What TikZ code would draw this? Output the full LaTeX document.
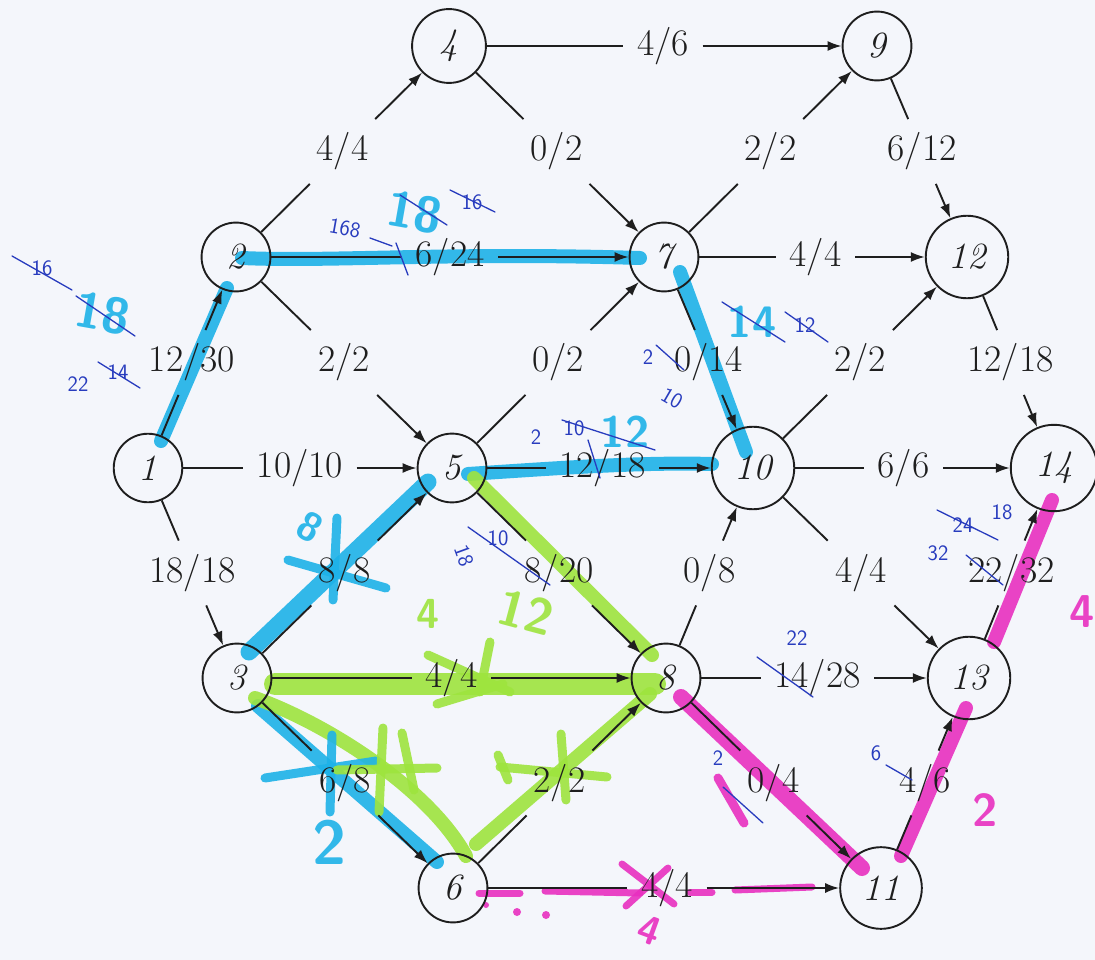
\documentclass[tikz,border=0pt]{standalone}
\usetikzlibrary{arrows.meta,calc}
\definecolor{paper}{RGB}{244,246,251}
\definecolor{ink}{RGB}{30,30,30}
\definecolor{hcyan}{RGB}{30,178,232}
\definecolor{hgreen}{RGB}{158,228,62}
\definecolor{hmag}{RGB}{232,48,192}
\definecolor{pen}{RGB}{40,60,190}
\pgfdeclarelayer{bg}
\pgfsetlayers{bg,main}
\newcommand\fedge[4]{%
  \node[lbl] (#4) at ($(#1)!0.5!(#2)$) {#3};
  \draw[seg] (#1) -- (#4);
  \draw[arc] (#4) -- (#2);
}
\begin{document}
\begin{tikzpicture}[x=1pt,y=-1pt,
  vert/.style={circle,draw=ink,text=ink,line width=1.9pt,inner sep=13.4pt,font=\fontsize{37}{44}\selectfont\itshape},
  lbl/.style={rectangle,inner sep=13.5pt,text=ink,font=\fontsize{37.5}{44}\selectfont},
  seg/.style={draw=ink,line width=1.9pt},
  arc/.style={draw=ink,line width=1.9pt,-{Latex[length=14pt,width=10pt]}},
  hl/.style={line width=14pt,line cap=round,opacity=0.9},
  hstroke/.style={line width=9pt,line cap=round,opacity=0.9},
  hnum/.style={inner sep=0pt,opacity=0.9,font=\fontsize{50}{50}\selectfont\sffamily\bfseries},
  pennum/.style={inner sep=0pt,text=pen,font=\fontsize{22}{22}\selectfont\sffamily},
  penline/.style={draw=pen,line width=1.3pt,line cap=round}]
\useasboundingbox (0,0) rectangle (1095,960);

% vertices
\node[vert] (n1) at (148,468) {1};
\node[vert] (n2) at (236,257) {2};
\node[vert] (n3) at (237,678) {3};
\node[vert] (n4) at (449,46) {4};
\node[vert] (n5) at (452,468) {5};
\node[vert] (n6) at (453,888) {6};
\node[vert] (n7) at (664,257) {7};
\node[vert] (n8) at (666,678) {8};
\node[vert] (n9) at (877,46) {9};
\node[vert] (n10) at (753,468) {10};
\node[vert] (n11) at (881,888) {11};
\node[vert] (n12) at (967,257) {12};
\node[vert] (n13) at (969,678) {13};
\node[vert] (n14) at (1054,468) {14};

% edges
\fedge{n1}{n2}{12/30}{e12}
\fedge{n1}{n5}{10/10}{e15}
\fedge{n1}{n3}{18/18}{e13}
\fedge{n2}{n4}{4/4}{e24}
\fedge{n2}{n7}{6/24}{e27}
\fedge{n2}{n5}{2/2}{e25}
\fedge{n4}{n9}{4/6}{e49}
\fedge{n4}{n7}{0/2}{e47}
\fedge{n5}{n7}{0/2}{e57}
\fedge{n5}{n10}{12/18}{e510}
\fedge{n3}{n5}{8/8}{e35}
\fedge{n5}{n8}{8/20}{e58}
\fedge{n3}{n8}{4/4}{e38}
\fedge{n3}{n6}{6/8}{e36}
\fedge{n6}{n8}{2/2}{e68}
\fedge{n6}{n11}{4/4}{e611}
\fedge{n7}{n9}{2/2}{e79}
\fedge{n7}{n12}{4/4}{e712}
\fedge{n7}{n10}{0/14}{e710}
\fedge{n8}{n10}{0/8}{e810}
\fedge{n8}{n13}{14/28}{e813}
\fedge{n8}{n11}{0/4}{e811}
\fedge{n9}{n12}{6/12}{e912}
\fedge{n10}{n12}{2/2}{e1012}
\fedge{n10}{n14}{6/6}{e1014}
\fedge{n10}{n13}{4/4}{e1013}
\fedge{n12}{n14}{12/18}{e1214}
\fedge{n13}{n14}{22/32}{e1314}
\fedge{n11}{n13}{4/6}{e1113}

% highlighter marks (below the print)
\begin{pgfonlayer}{bg}
\fill[paper] (0,0) rectangle (1095,960);
% cyan path
\draw[hl,hcyan] (161,441) -- (227,288);
\draw[hl,hcyan] (242,258) .. controls (330,262) and (450,252) .. (640,258);
\draw[hl,hcyan] (680,272) -- (746,452);
\draw[hl,hcyan] (468,474) .. controls (560,468) and (640,462) .. (712,464);
\draw[hl,hcyan,line width=17pt] (249,652) -- (428,482);
\draw[hl,hcyan] (258,706) -- (437,862);
% green path
\draw[hl,hgreen] (474,478) -- (652,655);
\draw[hl,hgreen,line width=22pt] (275,684) -- (655,684);
\draw[hl,hgreen] (255,698) .. controls (330,725) and (430,790) .. (466,856);
\draw[hl,hgreen] (476,844) -- (650,694);
% magenta path
\draw[hl,hmag,line width=16pt] (681,697) -- (862,868);
\draw[hl,hmag] (901,856) -- (966,708);
\draw[hl,hmag] (994,642) -- (1052,500);
\draw[hstroke,hmag,line width=7pt] (479,893) -- (520,893);
\draw[hstroke,hmag,line width=7pt] (545,891) -- (640,893);
\draw[hstroke,hmag,line width=7pt] (690,892) -- (712,892);
\draw[hstroke,hmag,line width=7pt] (735,890) -- (812,887);

% highlighter scribbles
\node[hnum,text=hcyan,rotate=-10] (c18a) at (103,313) {18};
\node[hnum,text=hcyan,rotate=-10] (c18b) at (415,212) {18};
\node[hnum,text=hcyan,font=\fontsize{44}{44}\selectfont\sffamily\bfseries] (c14) at (752,322) {14};
\node[hnum,text=hcyan,font=\fontsize{44}{44}\selectfont\sffamily\bfseries] (c12) at (625,432) {12};
\node[hnum,text=hcyan,font=\fontsize{40}{40}\selectfont\sffamily\bfseries,rotate=-30] (c8) at (310,527) {8};
\node[hnum,text=hcyan,font=\fontsize{62}{62}\selectfont\sffamily\bfseries] (c2) at (330,842) {2};
\draw[hstroke,hcyan] (288,560) -- (386,588);
\draw[hstroke,hcyan] (337,518) -- (333,600);
\draw[hstroke,hcyan] (265,778) -- (376,761);
\draw[hstroke,hcyan] (332,735) -- (330,812);

\node[hnum,text=hgreen,font=\fontsize{42}{42}\selectfont\sffamily\bfseries] (g4) at (428,614) {4};
\node[hnum,text=hgreen,rotate=-15] (g12) at (526,612) {12};
\draw[hstroke,hgreen] (490,642) -- (480,692);
\draw[hstroke,hgreen] (437,704) -- (503,684);
\draw[hstroke,hgreen] (428,655) -- (510,692);
\draw[hstroke,hgreen] (383,728) -- (379,812);
\draw[hstroke,hgreen] (337,770) -- (437,768);
\draw[hstroke,hgreen] (402,733) -- (414,790);
\draw[hstroke,hgreen] (561,734) -- (566,800);
\draw[hstroke,hgreen] (500,767) -- (607,777);
\draw[hstroke,hgreen] (498,755) -- (508,780);

\draw[hstroke,hmag,line width=7pt] (622,864) -- (674,904);
\draw[hstroke,hmag,line width=7pt] (626,906) -- (668,868);
\node[hnum,text=hmag,font=\fontsize{40}{40}\selectfont\sffamily\bfseries,rotate=-20] (m4a) at (650,930) {4};
\fill[hmag,opacity=0.9] (517,912) circle (4pt) (546,915) circle (4pt) (486,905) circle (3pt);
\node[hnum,text=hmag,font=\fontsize{46}{46}\selectfont\sffamily\bfseries] (m2) at (985,810) {2};
\node[hnum,text=hmag,font=\fontsize{46}{46}\selectfont\sffamily\bfseries] (m4b) at (1082,612) {4};
\draw[hstroke,hmag] (718,778) -- (744,823);
\end{pgfonlayer}

% pen notes
\node[pennum] (p16a) at (42,268) {16};
\draw[penline] (12,256) -- (72,290);
\draw[penline] (76,296) -- (135,336);
\node[pennum] (p22a) at (78,384) {22};
\node[pennum] (p14a) at (118,372) {14};
\draw[penline] (98,362) -- (140,388);
\node[pennum,rotate=-10] (p168) at (345,228) {168};
\draw[penline] (370,238) -- (392,246);
\draw[penline] (396,243) -- (408,275);
\draw[penline] (400,195) -- (447,225);
\node[pennum] (p16b) at (472,202) {16};
\draw[penline] (450,190) -- (495,212);
\draw[penline] (722,302) -- (785,342);
\node[pennum] (p12a) at (805,325) {12};
\draw[penline] (785,312) -- (828,342);
\node[pennum] (p2a) at (648,357) {2};
\node[pennum,rotate=-30] (p10a) at (672,398) {10};
\draw[penline] (656,345) -- (684,370);
\node[pennum] (p2b) at (536,437) {2};
\node[pennum] (p10b) at (574,428) {10};
\draw[penline] (562,420) -- (655,450);
\draw[penline] (588,440) -- (600,478);
\node[pennum,rotate=-70] (p18a) at (464,556) {18};
\node[pennum] (p10c) at (498,538) {10};
\draw[penline] (468,527) -- (550,585);
\node[pennum] (p22b) at (797,638) {22};
\draw[penline] (757,657) -- (813,697);
\node[pennum] (p2c) at (718,758) {2};
\draw[penline] (723,787) -- (763,823);
\node[pennum] (p6) at (876,753) {6};
\draw[penline] (886,765) -- (912,780);
\node[pennum] (p24) at (963,525) {24};
\draw[penline] (937,510) -- (998,540);
\node[pennum] (p18b) at (1002,512) {18};
\node[pennum] (p32) at (938,553) {32};
\draw[penline] (966,555) -- (1003,585);
\end{tikzpicture}
\end{document}
